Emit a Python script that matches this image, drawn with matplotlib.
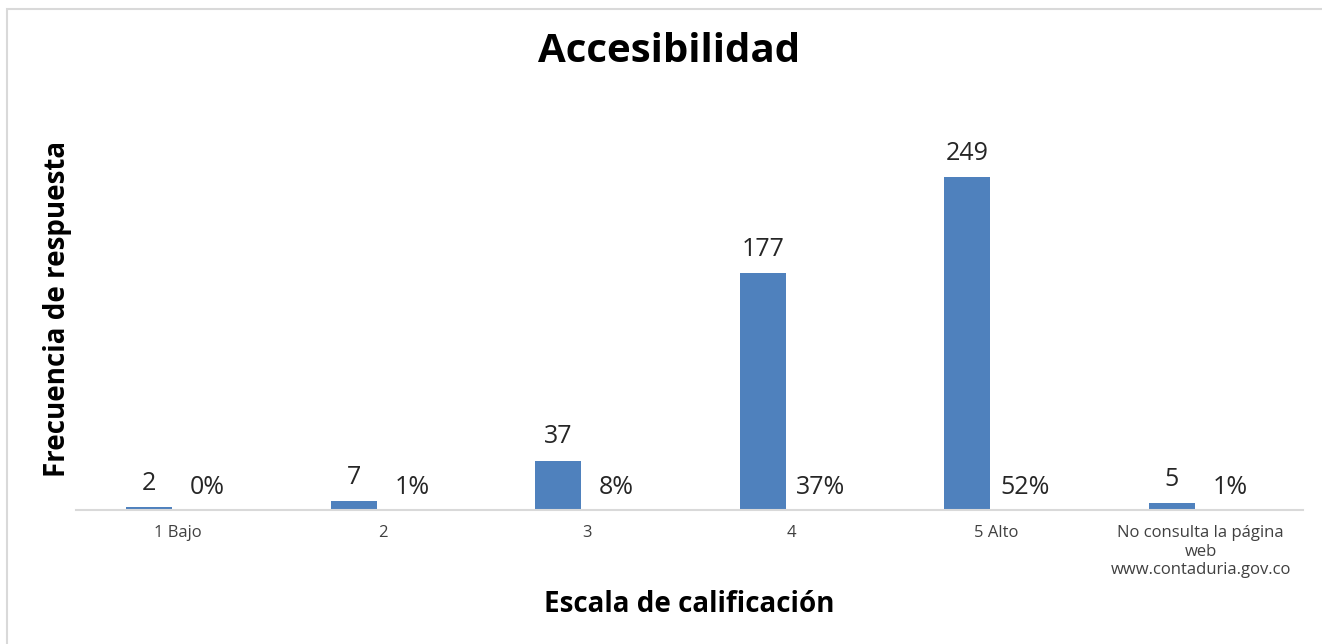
import matplotlib.pyplot as plt
import numpy as np
from matplotlib.patches import Rectangle

categories = ["1 Bajo", "2", "3", "4", "5 Alto",
              "No consulta la página\nweb\nwww.contaduria.gov.co"]
counts = [2, 7, 37, 177, 249, 5]
percents = [0, 1, 8, 37, 52, 1]

plt.rcParams['font.family'] = ['Open Sans', 'DejaVu Sans']

fig = plt.figure(figsize=(13.22, 6.44), dpi=100)
# light frame, open to the right and bottom like the source crop
fig.patches.append(Rectangle((6.5 / 1322, -0.1), 1.2, (644 - 9.5) / 644 + 0.1,
                             transform=fig.transFigure, fill=False,
                             edgecolor='#d9d9d9', linewidth=1.5))

ax = fig.add_axes([76 / 1322, 134 / 644, 1227 / 1322, 401 / 644])
x = np.arange(len(categories))
color = '#4f81bd'

b1 = ax.bar(x - 0.142, counts, width=0.225, color=color)
b2 = ax.bar(x + 0.142, np.array(percents) / 100, width=0.225, color=color)

ax.bar_label(b1, labels=[str(c) for c in counts], padding=8,
             fontsize=18, color='#262626')
ax.bar_label(b2, labels=[f"{p}%" for p in percents], padding=7,
             fontsize=18, color='#262626')

ax.set_xlim(-0.5, len(categories) - 0.5)
ax.set_ylim(0, 300)
ax.set_yticks([])
ax.set_xticks(x)
ax.set_xticklabels(categories, fontsize=12, color='#404040', linespacing=1.2)
ax.tick_params(axis='x', length=0, pad=11)
for s in ['top', 'right', 'left']:
    ax.spines[s].set_visible(False)
ax.spines['bottom'].set_color('#d9d9d9')
ax.spines['bottom'].set_linewidth(1.5)

fig.text(669 / 1322, 1 - 52 / 644, "Accesibilidad", fontsize=29,
         fontweight='bold', ha='center', va='center')
fig.text(689 / 1322, 1 - 604 / 644, "Escala de calificación", fontsize=20,
         fontweight='bold', ha='center', va='center')
fig.text(58 / 1322, 1 - 309 / 644, "Frecuencia de respuesta", fontsize=20,
         fontweight='bold', ha='center', va='center', rotation=90)

fig.savefig('out.png', dpi=100)
